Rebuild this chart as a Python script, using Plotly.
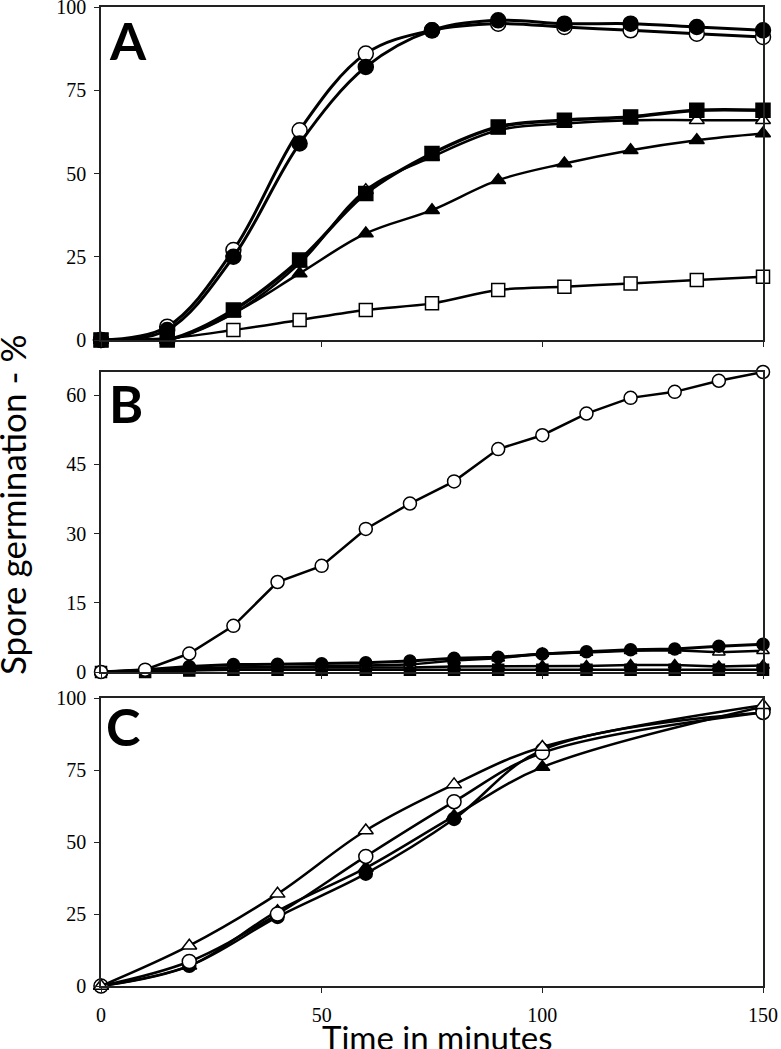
import plotly.graph_objects as go

W, H = 781, 1049

# ---------------- Panel A ----------------
time_a = [0, 15, 30, 45, 60, 75, 90, 105, 120, 135, 150]
a_open_circle = [0, 4, 27, 63, 86, 93, 95, 94, 93, 92, 91]
a_filled_circle = [0, 3, 25, 59, 82, 93, 96, 95, 95, 94, 93]
a_open_triangle = [0, 0, 8, 23, 45, 55, 63, 65, 66, 66, 66]
a_filled_square = [0, 0, 9, 24, 44, 56, 64, 66, 67, 69, 69]
a_filled_triangle = [0, 0, 8, 20, 32, 39, 48, 53, 57, 60, 62]
a_open_square = [0, 0.5, 3, 6, 9, 11, 15, 16, 17, 18, 19]

# ---------------- Panel B ----------------
time_b = [0, 10, 20, 30, 40, 50, 60, 70, 80, 90, 100, 110, 120, 130, 140, 150]
b_open_circle = [0, 0.5, 4, 10, 19.5, 23, 31, 36.5, 41.3, 48.3, 51.3, 56, 59.4, 60.7, 63.1, 65]
b_filled_square = [0, 0, 0.3, 0.5, 0.5, 0.5, 0.5, 0.5, 0.5, 0.5, 0.5, 0.5, 0.5, 0.5, 0.5, 0.5]
b_filled_triangle = [0, 0.3, 0.8, 1, 1, 1, 1, 1, 1.2, 1.2, 1.3, 1.3, 1.5, 1.5, 1.2, 1.4]
b_open_triangle = [0, 0.3, 0.7, 1, 1.1, 1.2, 1.4, 1.6, 2.5, 3, 4, 4.2, 4.6, 4.7, 4.3, 4.6]
b_filled_circle = [0, 0.5, 1.2, 1.6, 1.7, 1.8, 2, 2.4, 3, 3.2, 3.9, 4.4, 4.8, 5, 5.6, 6]

# ---------------- Panel C ----------------
time_c = [0, 20, 40, 60, 80, 100, 150]
c_open_triangle = [0, 14, 32, 54, 70, 83, 97.5]
c_open_circle = [0, 8.5, 25, 45, 64, 81, 95]
c_filled_circle = [0, 7, 24, 39, 58, 82, 95]
c_filled_triangle = [0, 7, 26, 41, 59, 76, 97]

x_ticks = [0, 50, 100, 150]
a_y_ticks = [0, 25, 50, 75, 100]
b_y_ticks = [0, 15, 30, 45, 60]
c_y_ticks = [0, 25, 50, 75, 100]

BLACK = "#000000"
WHITE = "#ffffff"

def series(x, y, symbol, fill, xa, ya, lw=2.5, size=13, shape="spline"):
    return go.Scatter(
        x=x, y=y, mode="lines+markers", xaxis=xa, yaxis=ya,
        line=dict(color=BLACK, width=lw, shape=shape, smoothing=1.0),
        marker=dict(symbol=symbol, size=size, color=fill,
                    line=dict(color=BLACK, width=1.5)),
        showlegend=False, cliponaxis=False, hoverinfo="skip",
    )

fig = go.Figure()

# Panel A
fig.add_trace(series(time_a, a_open_square, "square", WHITE, "x", "y", lw=2.5, size=13))
fig.add_trace(series(time_a, a_filled_triangle, "triangle-up", BLACK, "x", "y", lw=2.5, size=13))
fig.add_trace(series(time_a, a_open_triangle, "triangle-up", WHITE, "x", "y", lw=2.5, size=13))
fig.add_trace(series(time_a, a_filled_square, "square", BLACK, "x", "y", lw=3.5, size=14))
fig.add_trace(series(time_a, a_open_circle, "circle", WHITE, "x", "y", lw=3, size=15))
fig.add_trace(series(time_a, a_filled_circle, "circle", BLACK, "x", "y", lw=3, size=15))

# Panel B
fig.add_trace(series(time_b, b_filled_square, "square", BLACK, "x2", "y2", lw=2.5, size=11, shape="linear"))
fig.add_trace(series(time_b, b_filled_triangle, "triangle-up", BLACK, "x2", "y2", lw=2.5, size=11, shape="linear"))
fig.add_trace(series(time_b, b_open_triangle, "triangle-up", WHITE, "x2", "y2", lw=2.5, size=11, shape="linear"))
fig.add_trace(series(time_b, b_filled_circle, "circle", BLACK, "x2", "y2", lw=3, size=12, shape="linear"))
fig.add_trace(series(time_b, b_open_circle, "circle", WHITE, "x2", "y2", lw=2.5, size=13, shape="linear"))

# Panel C
fig.add_trace(series(time_c, c_filled_triangle, "triangle-up", BLACK, "x3", "y3", lw=2.5, size=13))
fig.add_trace(series(time_c, c_filled_circle, "circle", BLACK, "x3", "y3", lw=2.5, size=13))
fig.add_trace(series(time_c, c_open_circle, "circle", WHITE, "x3", "y3", lw=2.5, size=14))
fig.add_trace(series(time_c, c_open_triangle, "triangle-up", WHITE, "x3", "y3", lw=2.5, size=13))

xdom = [101 / W, 763 / W]
def ydom(top_px, bot_px):
    return [1 - bot_px / H, 1 - top_px / H]

tickfont = dict(family="Liberation Serif", size=20, color="#000000")
common_axis = dict(showline=True, linecolor="#222222", linewidth=1.5, mirror=True,
                   ticks="outside", ticklen=5, tickcolor="#222222", tickwidth=1.2,
                   showgrid=False, zeroline=False, tickfont=tickfont, automargin=False,
                   ticklabeloverflow="allow")

fig.update_layout(
    width=W, height=H,
    margin=dict(l=0, r=0, t=0, b=0),
    paper_bgcolor="white", plot_bgcolor="white",
    xaxis=dict(domain=xdom, range=[0, 150], tickvals=x_ticks, showticklabels=False,
               anchor="y", **common_axis),
    yaxis=dict(domain=ydom(7, 340), range=[0, 100], tickvals=a_y_ticks, anchor="x",
               ticklabelstandoff=4, **common_axis),
    xaxis2=dict(domain=xdom, range=[0, 150], tickvals=x_ticks, showticklabels=False,
                anchor="y2", **common_axis),
    yaxis2=dict(domain=ydom(372, 672), range=[0, 65], tickvals=b_y_ticks, anchor="x2",
                ticklabelstandoff=4, **common_axis),
    xaxis3=dict(domain=xdom, range=[0, 150], tickvals=x_ticks, anchor="y3",
                ticklabelstandoff=5, **common_axis),
    yaxis3=dict(domain=ydom(698, 986), range=[0, 100], tickvals=c_y_ticks, anchor="x3",
                ticklabelstandoff=4, **common_axis),
)

letter_font = dict(family="Lato", size=52, color="#000000")
for txt, cx, cy in [("<b>A</b>", 128, 40), ("<b>B</b>", 126, 403), ("<b>C</b>", 123, 726)]:
    fig.add_annotation(text=txt, x=cx / W, y=1 - cy / H, xref="paper", yref="paper",
                       showarrow=False, font=letter_font, xanchor="center", yanchor="middle")

fig.add_annotation(text="Spore germination - %", x=12 / W, y=1 - 505 / H,
                   xref="paper", yref="paper", showarrow=False, textangle=-90,
                   font=dict(family="Lato", size=35, color="#000000"),
                   xanchor="center", yanchor="middle")
fig.add_annotation(text="Time in minutes", x=437 / W, y=1 - 1015 / H,
                   xref="paper", yref="paper", showarrow=False,
                   font=dict(family="Lato", size=33, color="#000000"),
                   xanchor="center", yanchor="top")

fig.write_html("out.html",
               config={"displayModeBar": False},
               post_script="document.body.style.margin='0';document.body.style.overflow='hidden';")
